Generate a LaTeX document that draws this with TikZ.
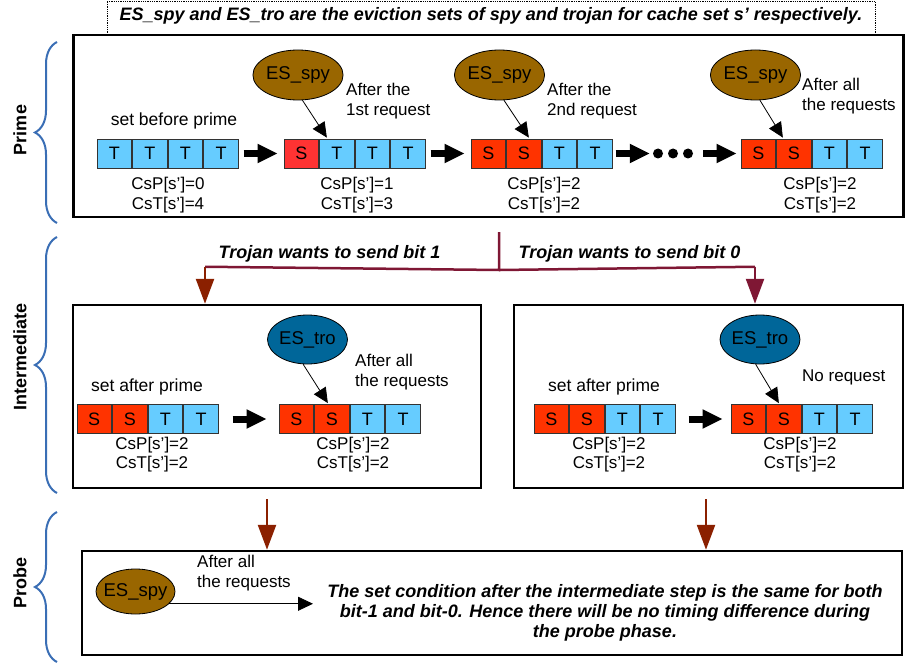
\documentclass[tikz,border=0pt]{standalone}
\usepackage{fontspec}
\setmainfont{Liberation Sans}
\usetikzlibrary{arrows.meta,calc,decorations.pathreplacing,shapes.geometric}
\definecolor{cT}{HTML}{66CCFF}
\definecolor{cS}{HTML}{FF3300}
\definecolor{cR}{HTML}{FF3333}
\definecolor{cellline}{HTML}{333333}
\definecolor{spybrown}{HTML}{996600}
\definecolor{troblue}{HTML}{006699}
\definecolor{braceblue}{HTML}{3A6EB5}
\definecolor{maroon}{HTML}{7F1734}
\definecolor{rust}{HTML}{8B2000}
\tikzset{
  every node/.style={font=\fontsize{17bp}{20bp}\selectfont, inner sep=0pt},
  cellbase/.style={draw=cellline, line width=0.8bp, minimum width=34.5bp, minimum height=29bp, font=\fontsize{18bp}{20bp}\selectfont},
  cellT/.style={cellbase, fill=cT},
  cellS/.style={cellbase, fill=cS},
  cellR/.style={cellbase, fill=cR},
  bigbox/.style={draw, line width=2.5bp},
  espy/.style={ellipse, draw, line width=0.8bp, fill=spybrown, minimum width=78bp, minimum height=50bp, font=\fontsize{18.5bp}{20bp}\selectfont},
  etro/.style={ellipse, draw, line width=0.8bp, fill=troblue, minimum width=79bp, minimum height=49bp, font=\fontsize{18.5bp}{20bp}\selectfont},
  thickarrow/.style={line width=7bp, -{Triangle[length=20bp,width=18bp]}},
  thinarrow/.style={line width=0.8bp, -{Triangle[length=15bp,width=14bp]}},
  branch/.style={line width=2.5bp, -{Triangle[length=25bp,width=18bp]}},
  bracestyle/.style={draw=braceblue, line width=2bp, decorate, decoration={brace, amplitude=22bp}},
  phase/.style={font=\fontsize{18bp}{20bp}\selectfont\bfseries, rotate=90},
  bi/.style={font=\fontsize{18bp}{20bp}\selectfont\bfseries\itshape},
  dotc/.style={circle, fill=black, minimum size=10bp},
  lbl/.style={align=center},
}
\newcommand\cacheset[4]{\foreach \st/\tx [count=\i] in {#4} {\node[cell\st] (#1\i) at ({#2+17.25+(\i-1)*35.6},#3) {\tx};}}
\begin{document}
\begin{tikzpicture}[x=1bp, y=-1bp]
\useasboundingbox (0,0) rectangle (905,668);
% title
\node[draw, densely dotted, line width=0.8bp, minimum width=768bp, minimum height=33bp] (title) at (491,17.5) {};
\node[bi] (titletext) at (491,16) {ES\_spy and ES\_tro are the eviction sets of spy and trojan for cache set s’ respectively.};
% boxes
\node[bigbox, fill=white, minimum width=830bp, minimum height=182bp] (prime) at (488.5,126) {};
\node[bigbox, minimum width=408bp, minimum height=183bp] (intL) at (277,396.5) {};
\node[bigbox, minimum width=389bp, minimum height=183bp] (intR) at (708.5,396.5) {};
\node[bigbox, minimum width=820bp, minimum height=104bp] (probe) at (492,603) {};
% braces and phase labels
\draw[bracestyle] (57,223) -- (57,42);
\draw[bracestyle] (57,493) -- (57,237);
\draw[bracestyle] (57,662) -- (57,512);
\node[phase] (lprime) at (20,130) {Prime};
\node[phase] (linter) at (20,357) {Intermediate};
\node[phase] (lprobe) at (20,583) {Probe};
% ---------- Prime ----------
\cacheset{pa}{97}{153.5}{T/T,T/T,T/T,T/T}
\cacheset{pb}{284}{153.5}{R/S,T/T,T/T,T/T}
\cacheset{pc}{471}{153.5}{S/S,S/S,T/T,T/T}
\cacheset{pd}{741}{153.5}{S/S,S/S,T/T,T/T}
\node[font=\fontsize{17.5bp}{20bp}\selectfont] (sbp) at (174,121) {set before prime};
\node[lbl] (cpa) at (168,195) {CsP[s’]=0\\CsT[s’]=4};
\node[lbl] (cpb) at (357,195) {CsP[s’]=1\\CsT[s’]=3};
\node[lbl] (cpc) at (544,195) {CsP[s’]=2\\CsT[s’]=2};
\node[lbl] (cpd) at (820,195) {CsP[s’]=2\\CsT[s’]=2};
\node[dotc] (d1) at (658,153.5) {};
\node[dotc] (d2) at (673,153.5) {};
\node[dotc] (d3) at (688,153.5) {};
\draw[thickarrow] ($(pa4.east)+(5,0)$) -- ($(pb1.west)+(-6,0)$);
\draw[thickarrow] ($(pb4.east)+(5,0)$) -- ($(pc1.west)+(-6,0)$);
\draw[thickarrow] ($(pc4.east)+(3,0)$) -- ($(d1.west)+(-3,0)$);
\draw[thickarrow] ($(d3.east)+(10,0)$) -- ($(pd1.west)+(-4,0)$);
\node[espy] (e1) at (298,75) {ES\_spy};
\node[espy] (e2) at (499.5,75) {ES\_spy};
\node[espy] (e3) at (755.5,75) {ES\_spy};
\draw[thinarrow] (e1.-80) -- ($(pb2.north)+(-10,-1)$);
\draw[thinarrow] (e2.-80) -- ($(pc2.north)+(5,-1)$);
\draw[thinarrow] (e3.-80) -- ($(pd2.north)+(-11,-1)$);
\node[lbl, align=left, anchor=west] (t1) at (346,101) {After the\\1st request};
\node[lbl, align=left, anchor=west] (t2) at (547,101) {After the\\2nd request};
\node[lbl, align=left, anchor=west] (t3) at (802,96) {After all\\the requests};
% ---------- branches ----------
\coordinate (split) at (499,232);
\coordinate (junc) at (499,270);
\coordinate (brl) at ($(intL.north)+(-72,-37)$);
\coordinate (brr) at ($(intR.north)+(46.5,-37)$);
\draw[maroon, line width=2.5bp] (split) -- (junc) -- (brl);
\draw[maroon, line width=2.5bp] (junc) -- (brr);
\draw[branch, rust] (brl) -- ($(intL.north)+(-72,0)$);
\draw[branch, maroon] (brr) -- ($(intR.north)+(46.5,0)$);
\node[bi] (bit1) at (329.5,254) {Trojan wants to send bit 1};
\node[bi] (bit0) at (629.5,254) {Trojan wants to send bit 0};
% ---------- Intermediate left ----------
\cacheset{la}{77}{419}{S/S,S/S,T/T,T/T}
\cacheset{lb}{279}{419}{S/S,S/S,T/T,T/T}
\node[font=\fontsize{17.5bp}{20bp}\selectfont] (sapl) at (147,387) {set after prime};
\node[lbl, font=\fontsize{17bp}{19bp}\selectfont] (cla) at (152,454.5) {CsP[s’]=2\\CsT[s’]=2};
\node[lbl, font=\fontsize{17bp}{19bp}\selectfont] (clb) at (353,454.5) {CsP[s’]=2\\CsT[s’]=2};
\draw[thickarrow] ($(la4.east)+(14,0)$) -- ($(lb1.west)+(-12,0)$);
\node[etro] (tl) at (307.5,339.5) {ES\_tro};
\draw[thinarrow] (tl.-100) -- ($(lb2.north)+(-4,-1)$);
\node[lbl, align=left, anchor=west] (tla) at (355,372) {After all\\the requests};
% ---------- Intermediate right ----------
\cacheset{ra}{534}{419}{S/S,S/S,T/T,T/T}
\cacheset{rb}{731}{419}{S/S,S/S,T/T,T/T}
\node[font=\fontsize{17.5bp}{20bp}\selectfont] (sapr) at (604,387) {set after prime};
\node[lbl, font=\fontsize{17bp}{19bp}\selectfont] (cra) at (609,454.5) {CsP[s’]=2\\CsT[s’]=2};
\node[lbl, font=\fontsize{17bp}{19bp}\selectfont] (crb) at (800,454.5) {CsP[s’]=2\\CsT[s’]=2};
\draw[thickarrow] ($(ra4.east)+(13,0)$) -- ($(rb1.west)+(-8,0)$);
\node[etro] (tr) at (760,339.5) {ES\_tro};
\draw[thinarrow] (tr.-100) -- ($(rb2.north)+(-5,-1)$);
\node[anchor=west] (nor) at (802,377) {No request};
% ---------- down arrows ----------
\draw[branch, rust] ($(intL.south)+(-10,10)$) -- ($(probe.north)+(-225,0)$);
\draw[branch, rust] ($(intR.south)+(-2.5,10)$) -- ($(probe.north)+(214,0)$);
% ---------- Probe ----------
\node[espy, minimum width=79bp, minimum height=45bp, inner xsep=-6bp, inner ysep=-4bp] (pe) at (135.5,591.5) {ES\_spy};
\coordinate (ptip) at (313,600);
\draw[thinarrow] (pe.-20) -- (pe.-20 -| ptip);
\node[lbl, align=left, anchor=west] (pt) at (197,573) {After all\\the requests};
\node[bi, align=center] (concl) at (605,613) {The set condition after the intermediate step is the same for both\\bit-1 and bit-0. Hence there will be no timing difference during\\the probe phase.};
\end{tikzpicture}
\end{document}
